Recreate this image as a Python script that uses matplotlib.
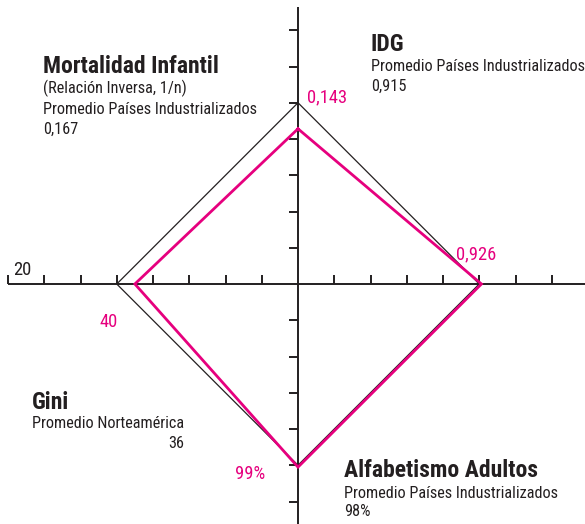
import matplotlib.pyplot as plt

# axis order: top, right, bottom, left
axes_names = ['Mortalidad Infantil', 'IDG', 'Alfabetismo Adultos', 'Gini']
ref_values = [0.167, 0.915, 98, 36]      # promedio de referencia (diamante negro)
country_values = [0.143, 0.926, 99, 40]  # valores del país (línea rosa)
ref_units = 5                            # la referencia cae en la 5a marca

PINK = '#e6007e'
INK = '#231f20'
plt.rcParams['font.family'] = ['Roboto Condensed', 'Liberation Sans Narrow', 'Roboto', 'DejaVu Sans']


def scaled(values):
    out = []
    for i, v in enumerate(values):
        r = ref_values[i]
        # Gini es relación inversa (más alto = peor)
        out.append(ref_units * (r / v if i == 3 else v / r))
    return out


def to_xy(r):
    top, right, bottom, left = r
    xs = [0, right, 0, -left, 0]
    ys = [top, 0, -bottom, 0, top]
    return xs, ys


fig = plt.figure(figsize=(5.85, 5.24), dpi=100)
ax = fig.add_axes([0, 0, 1, 1])
ax.set_xlim(-298 / 36.25, (585 - 298) / 36.25)
ax.set_ylim((284 - 524) / 36.25, 284 / 36.25)
ax.axis('off')

# ejes
ax.plot([-8, 8.2], [0, 0], color=INK, lw=1.4, solid_capstyle='butt')
ax.plot([0, 0], [-7, 7.65], color=INK, lw=1.4, solid_capstyle='butt')
tl = 0.26
for t in list(range(-8, 0)) + list(range(1, 8)):
    ax.plot([t, t], [0, tl], color=INK, lw=1.4, solid_capstyle='butt')
for t in list(range(-6, 0)) + list(range(1, 8)):
    ax.plot([-tl, 0], [t, t], color=INK, lw=1.4, solid_capstyle='butt')

xs, ys = to_xy([ref_units] * 4)
ax.plot(xs, ys, color=INK, lw=0.9, solid_joinstyle='miter')
xs, ys = to_xy(scaled(country_values))
ax.plot(xs, ys, color=PINK, lw=2.0, solid_joinstyle='miter')


def txt(x, y, s, **kw):
    kw.setdefault('color', INK)
    kw.setdefault('fontsize', 11.7)
    fig.text(x / 585, 1 - y / 524, s, va='baseline', **kw)


# Mortalidad Infantil
txt(43, 73, 'Mortalidad Infantil', fontsize=17, fontweight='bold')
txt(43, 93, '(Relación Inversa, 1/n)')
txt(43, 114, 'Promedio Países Industrializados')
txt(43, 134, '0,167')
# IDG
txt(371, 51, 'IDG', fontsize=17, fontweight='bold')
txt(371, 71, 'Promedio Países Industrializados')
txt(371, 91, '0,915')
# Gini
txt(32, 409, 'Gini', fontsize=17, fontweight='bold')
txt(32, 428, 'Promedio Norteamérica')
txt(184, 448, '36', ha='right')
# Alfabetismo
txt(344, 477, 'Alfabetismo Adultos', fontsize=17, fontweight='bold')
txt(344, 498, 'Promedio Países Industrializados')
txt(344, 516, '98%')

# valores del país
txt(307, 102, '0,143', color=PINK, fontsize=13.3)
txt(456, 259, '0,926', color=PINK, fontsize=13.3)
txt(99, 327, '40', color=PINK, fontsize=13.3)
txt(235, 479, '99%', color=PINK, fontsize=13.3)
txt(13, 275, '20', fontsize=13.3)

fig.savefig('out.png', dpi=100)
